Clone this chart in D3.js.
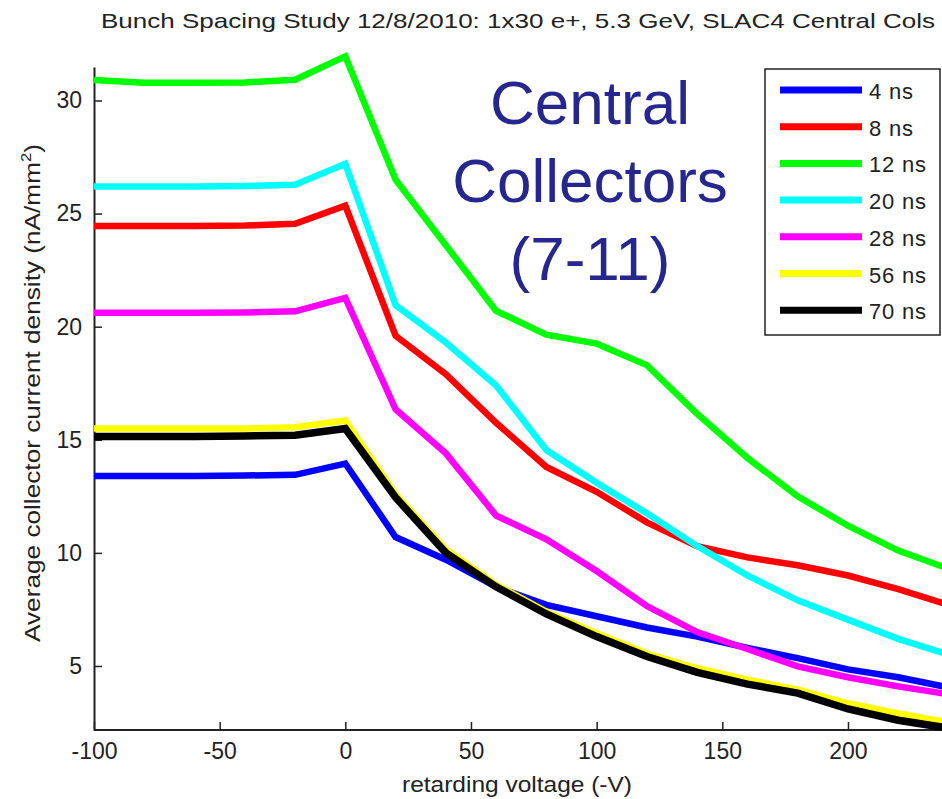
<!DOCTYPE html>
<html>
<head>
<meta charset="utf-8">
<script src="https://cdn.jsdelivr.net/npm/d3@7"></script>
<style>
  html, body { margin: 0; padding: 0; background: #fff; }
  svg { display: block; font-family: "Liberation Sans", Arial, sans-serif; }
</style>
</head>
<body>
<svg id="chart" width="942" height="799"></svg>
<script>
// Retarding voltage steps (-V)
const voltages = [-100, -80, -60, -40, -20, 0, 20, 40, 60, 80, 100, 120, 140, 160, 180, 200, 220, 240];

// Average collector current density (nA/mm^2) for each bunch spacing
const ns4  = [13.4, 13.4, 13.4, 13.42, 13.45, 13.95, 10.7, 9.7, 8.5, 7.7, 7.2, 6.7, 6.3, 5.8, 5.35, 4.85, 4.5, 4.05];
const ns8  = [24.45, 24.45, 24.45, 24.47, 24.55, 25.35, 19.6, 17.9, 15.75, 13.8, 12.7, 11.35, 10.3, 9.8, 9.45, 9.0, 8.4, 7.7];
const ns12 = [30.9, 30.78, 30.78, 30.8, 30.92, 31.95, 26.5, 23.6, 20.7, 19.65, 19.25, 18.3, 16.15, 14.2, 12.5, 11.2, 10.1, 9.3];
const ns20 = [26.2, 26.2, 26.2, 26.22, 26.27, 27.2, 20.95, 19.3, 17.4, 14.55, 13.1, 11.75, 10.3, 9.0, 7.9, 7.05, 6.2, 5.5];
const ns28 = [20.62, 20.62, 20.62, 20.63, 20.68, 21.27, 16.35, 14.4, 11.65, 10.6, 9.2, 7.65, 6.5, 5.75, 4.98, 4.5, 4.1, 3.75];
const ns56 = [15.5, 15.5, 15.5, 15.5, 15.55, 15.85, 12.6, 10.15, 8.6, 7.4, 6.45, 5.55, 4.9, 4.4, 3.95, 3.35, 2.9, 2.5];
const ns70 = [15.15, 15.15, 15.15, 15.17, 15.2, 15.5, 12.45, 10.0, 8.5, 7.3, 6.3, 5.42, 4.72, 4.2, 3.8, 3.1, 2.6, 2.25];

const seriesNames  = ["4 ns", "8 ns", "12 ns", "20 ns", "28 ns", "56 ns", "70 ns"];
const seriesValues = [ns4, ns8, ns12, ns20, ns28, ns56, ns70];
const seriesColors = ["#0000ff", "#ff0000", "#00ff00", "#00ffff", "#ff00ff", "#ffff00", "#000000"];

const xTicks = [-100, -50, 0, 50, 100, 150, 200];
const yTicks = [5, 10, 15, 20, 25, 30];

const titleText = "Bunch Spacing Study 12/8/2010: 1x30 e+, 5.3 GeV, SLAC4 Central Cols";
const xLabel = "retarding voltage (-V)";
const noteLines = ["Central", "Collectors", "(7-11)"];

const svg = d3.select("#chart");

const x = d3.scaleLinear().domain([-100, 240]).range([94, 948.5]);
const y = d3.scaleLinear().domain([2.17, 31.48]).range([730, 67]);

// Axes (ticks pointing inward, no box); plain hyphen for negatives
const fmt = d => String(d);
const xAxis = svg.append("g")
  .attr("transform", `translate(0,${y.range()[0]})`)
  .call(d3.axisBottom(x).tickValues(xTicks).tickFormat(fmt)
    .tickSizeInner(-8).tickSizeOuter(0).tickPadding(12));
const yAxis = svg.append("g")
  .attr("transform", `translate(${x.range()[0]},0)`)
  .call(d3.axisLeft(y).tickValues(yTicks).tickFormat(fmt)
    .tickSizeInner(-8).tickSizeOuter(0).tickPadding(12));

[xAxis, yAxis].forEach(g => {
  g.select(".domain").attr("stroke", "#222").attr("stroke-width", 2);
  g.selectAll(".tick line").attr("stroke", "#222").attr("stroke-width", 1.5);
  g.selectAll(".tick text").attr("fill", "#222").attr("font-size", 23)
    .attr("font-family", "'Liberation Sans', Arial, sans-serif");
});
xAxis.selectAll(".tick text").attr("dy", "0.72em");
// extend the x axis line across to the right edge
xAxis.select(".domain").attr("d", `M${x.range()[0]},0H942`);

// Series lines
const line = d3.line()
  .x((d, i) => x(voltages[i]))
  .y(d => y(d));

seriesValues.forEach((vals, k) => {
  svg.append("path")
    .datum(vals)
    .attr("fill", "none")
    .attr("stroke", seriesColors[k])
    .attr("stroke-width", k === 6 ? 7.5 : 6.5)
    .attr("stroke-linejoin", "miter")
    .attr("d", line);
});

// Title
svg.append("text")
  .attr("x", 518).attr("y", 28)
  .attr("text-anchor", "middle")
  .attr("font-size", 21)
  .attr("fill", "#222")
  .attr("textLength", 834)
  .attr("lengthAdjust", "spacingAndGlyphs")
  .text(titleText);

// Axis titles
svg.append("text")
  .attr("x", 517).attr("y", 792)
  .attr("text-anchor", "middle")
  .attr("font-size", 22)
  .attr("fill", "#222")
  .attr("textLength", 230)
  .attr("lengthAdjust", "spacingAndGlyphs")
  .text(xLabel);

const yLab = svg.append("text")
  .attr("transform", "translate(40,393) rotate(-90)")
  .attr("text-anchor", "middle")
  .attr("font-size", 22)
  .attr("fill", "#222")
  .attr("textLength", 498)
  .attr("lengthAdjust", "spacingAndGlyphs");
yLab.append("tspan").text("Average collector current density (nA/mm");
yLab.append("tspan").attr("font-size", 14).attr("dy", -9).text("2");
yLab.append("tspan").attr("dy", 9).text(")");

// Annotation
noteLines.forEach((t, i) => {
  svg.append("text")
    .attr("x", 590).attr("y", 124 + i * 78)
    .attr("text-anchor", "middle")
    .attr("font-size", 62)
    .attr("fill", "#26268f")
    .text(t);
});

// Legend
const legend = svg.append("g");
legend.append("rect")
  .attr("x", 765).attr("y", 69)
  .attr("width", 175).attr("height", 266)
  .attr("fill", "#fff")
  .attr("stroke", "#222")
  .attr("stroke-width", 1.5);
seriesNames.forEach((name, k) => {
  const ly = 90 + k * 36.7;
  legend.append("line")
    .attr("x1", 780).attr("x2", 862)
    .attr("y1", ly).attr("y2", ly)
    .attr("stroke", seriesColors[k])
    .attr("stroke-width", 7);
  legend.append("text")
    .attr("x", 869).attr("y", ly + 9)
    .attr("font-size", 22)
    .attr("letter-spacing", 0.8)
    .attr("fill", "#222")
    .text(name);
});
</script>
</body>
</html>
